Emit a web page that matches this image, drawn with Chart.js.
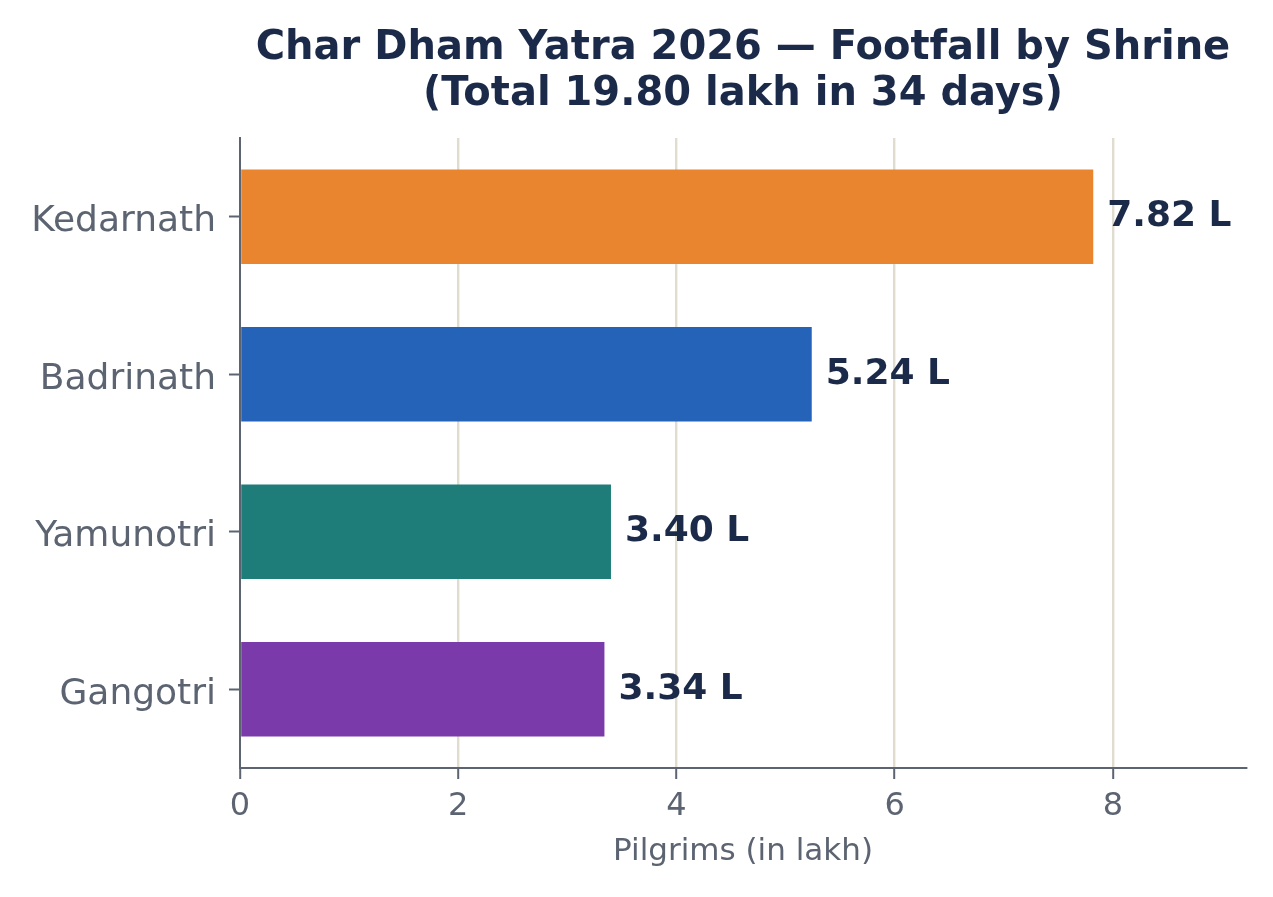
<!DOCTYPE html>
<html>
<head>
<meta charset="utf-8">
<script src="https://cdn.jsdelivr.net/npm/chart.js@4.4.1/dist/chart.umd.min.js"></script>
<style>
  html, body { margin: 0; padding: 0; background: #ffffff; }
  #wrap { width: 1273px; height: 897px; }
</style>
</head>
<body>
<div id="wrap"><canvas id="c" width="1273" height="897"></canvas></div>
<script>
const categories = ['Kedarnath', 'Badrinath', 'Yamunotri', 'Gangotri'];
const footfall = [7.82, 5.24, 3.40, 3.34];
const barColors = ['#e8852e', '#2563b8', '#1e7d78', '#7b3aa9'];
const xTickValues = [0, 2, 4, 6, 8];
const titleLines = ['Char Dham Yatra 2026 \u2014 Footfall by Shrine', '(Total 19.80 lakh in 34 days)'];
const xAxisTitle = 'Pilgrims (in lakh)';
const valueSuffix = ' L';

const FONT = "'DejaVu Sans', 'Liberation Sans', sans-serif";
const AXIS_GRAY = '#5c6472';
const TITLE_NAVY = '#1c2a4a';
const GRID = '#e0dccf';

const valueLabels = {
  id: 'valueLabels',
  afterDatasetsDraw(chart) {
    const ctx = chart.ctx;
    const meta = chart.getDatasetMeta(0);
    ctx.save();
    ctx.font = "bold 36px " + FONT;
    ctx.fillStyle = TITLE_NAVY;
    ctx.textAlign = 'left';
    ctx.textBaseline = 'middle';
    meta.data.forEach((bar, i) => {
      const v = chart.data.datasets[0].data[i];
      ctx.fillText(v.toFixed(2) + valueSuffix, bar.x + 14, bar.y);
    });
    ctx.restore();
  }
};

new Chart(document.getElementById('c'), {
  type: 'bar',
  data: {
    labels: categories,
    datasets: [{
      data: footfall,
      backgroundColor: barColors,
      borderWidth: 0,
      categoryPercentage: 1.0,
      barPercentage: 0.6
    }]
  },
  options: {
    indexAxis: 'y',
    responsive: false,
    devicePixelRatio: 1,
    animation: false,
    layout: { padding: { left: 0, right: 27, top: 0, bottom: 0 } },
    plugins: {
      legend: { display: false },
      tooltip: { enabled: false },
      title: {
        display: true,
        fullSize: false,
        text: titleLines,
        color: TITLE_NAVY,
        font: { family: FONT, size: 40, weight: 'bold', lineHeight: 1.15 },
        padding: { top: 26, bottom: 20 }
      }
    },
    scales: {
      x: {
        type: 'linear',
        min: 0,
        max: 9.22,
        afterBuildTicks(scale) {
          scale.ticks = xTickValues.map(v => ({ value: v }));
        },
        afterFit(scale) { scale.height = 129; },
        ticks: {
          includeBounds: false,
          color: AXIS_GRAY,
          font: { family: FONT, size: 32 },
          padding: 8,
          callback: (v) => String(v)
        },
        grid: {
          display: true,
          drawOnChartArea: true,
          drawTicks: true,
          tickLength: 11,
          lineWidth: 2.4,
          tickWidth: 2,
          tickColor: AXIS_GRAY,
          color: (ctx) => (ctx.tick && ctx.tick.value === 0) ? 'rgba(0,0,0,0)' : GRID
        },
        border: { display: true, color: AXIS_GRAY, width: 2 },
        title: {
          display: true,
          text: xAxisTitle,
          color: AXIS_GRAY,
          font: { family: FONT, size: 31 },
          padding: { top: 6, bottom: 26 }
        }
      },
      y: {
        afterFit(scale) { scale.width = 240; },
        ticks: {
          color: AXIS_GRAY,
          font: { family: FONT, size: 36 },
          padding: 13,
          labelOffset: 5
        },
        grid: {
          display: true,
          offset: false,
          drawOnChartArea: false,
          drawTicks: true,
          tickLength: 11,
          tickWidth: 2,
          tickColor: AXIS_GRAY
        },
        border: { display: true, color: AXIS_GRAY, width: 2 }
      }
    }
  },
  plugins: [valueLabels]
});
</script>
</body>
</html>
